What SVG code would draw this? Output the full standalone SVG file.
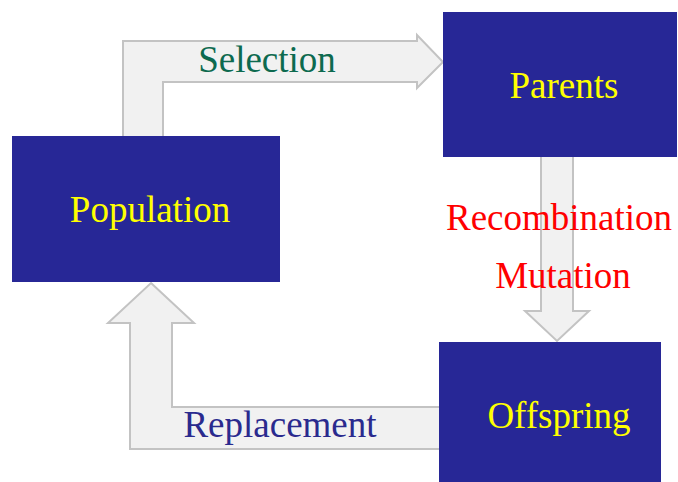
<svg xmlns="http://www.w3.org/2000/svg" width="678" height="482" viewBox="0 0 678 482">
  <style>
    .box { fill: #272796; }
    .flow { fill: #f1f1f1; stroke: #c3c3c3; stroke-width: 2; stroke-linejoin: miter; }
    text { font-family: "Liberation Serif", "Times New Roman", serif; font-size: 37px; text-anchor: middle; }
    .node-label { fill: #ffff00; }
  </style>
  <rect width="678" height="482" fill="#ffffff"/>

  <!-- connectors: broad block arrows drawn under the boxes -->
  <g id="connectors">
    <g id="selection">
      <path class="flow" d="M123,140 L123,41 L417,41 L417,35 L443,62 L417,88 L417,82 L163,82 L163,140 Z"/>
      <text x="267" y="72" fill="#0d6a4f">Selection</text>
    </g>
    <g id="variation">
      <path class="flow" d="M541,155 L573,155 L573,311 L589,311 L557,341 L525,311 L541,311 Z"/>
      <text x="559" y="230" fill="#ff0000">Recombination</text>
      <text x="563" y="288" fill="#ff0000">Mutation</text>
    </g>
    <g id="replacement">
      <path class="flow" d="M151,283 L194,323 L172,323 L172,407 L442,407 L442,449 L130,449 L130,323 L108,323 Z"/>
      <text x="280" y="437" fill="#2a2a8e">Replacement</text>
    </g>
  </g>

  <g id="population">
    <rect class="box" x="12" y="136" width="268" height="146"/>
    <text class="node-label" x="150" y="222">Population</text>
  </g>
  <g id="parents">
    <rect class="box" x="443" y="12" width="234" height="145"/>
    <text class="node-label" x="564" y="98">Parents</text>
  </g>
  <g id="offspring">
    <rect class="box" x="439" y="342" width="222" height="140"/>
    <text class="node-label" x="559" y="428">Offspring</text>
  </g>
</svg>
